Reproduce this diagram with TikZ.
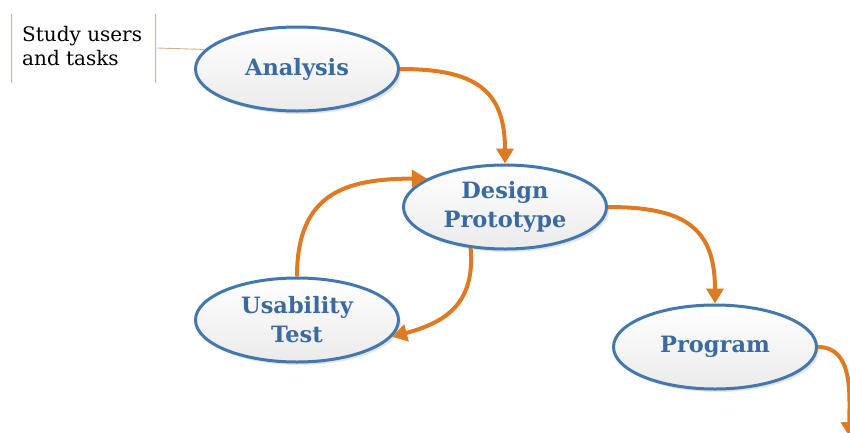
\documentclass[tikz,border=0pt]{standalone}
\usepackage{fontspec}
\setmainfont{DejaVu Serif}
\usetikzlibrary{shapes.geometric,arrows.meta,shadows}
\definecolor{ebord}{HTML}{4377AE}
\definecolor{etext}{HTML}{3B6A9E}
\definecolor{flow}{HTML}{DD7A22}
\definecolor{tan}{HTML}{D8AE84}
\tikzset{
  stage/.style={ellipse, draw=ebord, line width=3pt, minimum width=203pt, minimum height=84pt,
    inner sep=0pt, top color=white, bottom color=black!8, text=etext,
    font=\fontsize{22.5}{29}\selectfont\bfseries, align=center,
    drop shadow={shadow xshift=2.5pt, shadow yshift=-3pt, opacity=0.25, fill=black!40}},
  flowarrow/.style={draw=flow, line width=4pt, -{Triangle[length=15pt,width=17pt]}},
  note/.style={text=black, font=\fontsize{20}{24}\selectfont, align=left, anchor=north west, inner sep=0pt},
  tanline/.style={draw=tan, line width=0.9pt}
}
\begin{document}
\begin{tikzpicture}[x=1pt,y=-1pt]
\useasboundingbox (0,0) rectangle (850,432);
\clip (0,0) rectangle (850,432);
\fill[white] (0,0) rectangle (850,432);
% note box
\coordinate (nl1) at (11,14);
\coordinate (nl2) at (11,83);
\coordinate (nr1) at (155,14);
\coordinate (nr2) at (155,83);
\coordinate (nmid) at (157,48);
\draw[tanline] (nl1) -- (nl2);
\draw[tanline] (nr1) -- (nr2);
\node[note] (study) at (22,26) {Study users\\and tasks};
% stages
\node[stage] (ana) at (297,69) {Analysis};
\node[stage] (des) at (505,207) {Design\\Prototype};
\node[stage] (usa) at (297,320) {Usability\\Test};
\node[stage] (pro) at (715,347) {Program};
\draw[tanline] (nmid) -- (ana.168);
% flows
\draw[flowarrow] (ana.east) to[out=0,in=90,looseness=1.35] (des.north);
\draw[flowarrow] (des.east) to[out=0,in=90,looseness=1.35] (pro.north);
\draw[flowarrow] (usa.north) to[out=90,in=180,looseness=1.3] (des.160);
\draw[flowarrow] (des.230) to[out=-85,in=15,looseness=1.2] (usa.-10);
\coordinate (off) at (850,437);
\draw[flowarrow] (pro.east) to[out=0,in=92,looseness=1.0] (off);
\end{tikzpicture}
\end{document}
